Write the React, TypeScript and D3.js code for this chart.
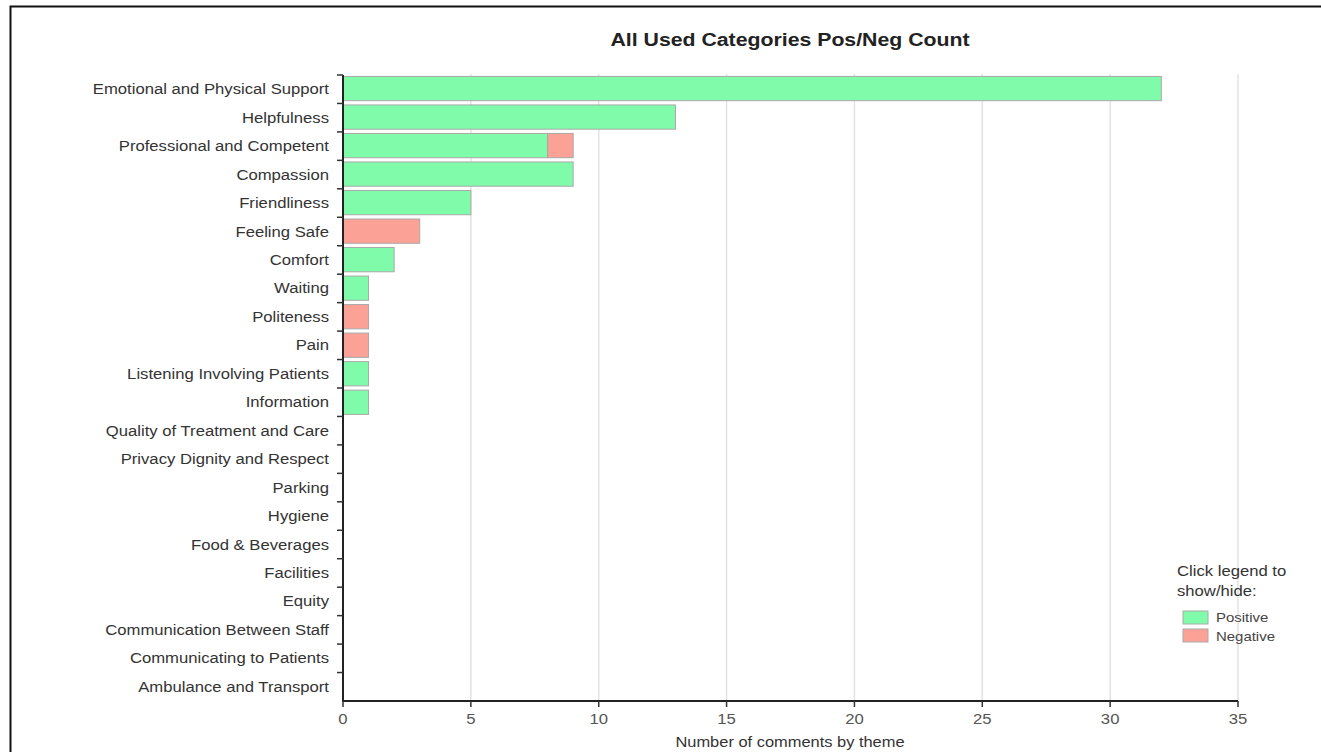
import React from "react";
import * as d3 from "d3";

const categories = [
  "Emotional and Physical Support",
  "Helpfulness",
  "Professional and Competent",
  "Compassion",
  "Friendliness",
  "Feeling Safe",
  "Comfort",
  "Waiting",
  "Politeness",
  "Pain",
  "Listening Involving Patients",
  "Information",
  "Quality of Treatment and Care",
  "Privacy Dignity and Respect",
  "Parking",
  "Hygiene",
  "Food & Beverages",
  "Facilities",
  "Equity",
  "Communication Between Staff",
  "Communicating to Patients",
  "Ambulance and Transport",
];
const positiveValues = [32, 13, 8, 9, 5, 0, 2, 1, 0, 0, 1, 1, 0, 0, 0, 0, 0, 0, 0, 0, 0, 0];
const negativeValues = [0, 0, 1, 0, 0, 3, 0, 0, 1, 1, 0, 0, 0, 0, 0, 0, 0, 0, 0, 0, 0, 0];
const xTicks = [0, 5, 10, 15, 20, 25, 30, 35];
const seriesNames = ["Positive", "Negative"];
const seriesColors = ["#80fbaa", "#fba196"];

const W = 1321;
const H = 752;
const m = { left: 343, right: 1238, top: 75, bottom: 701 };
const FONT = "'Liberation Sans', Arial, sans-serif";
const SX = 1.15;

function T(props: {
  x: number;
  y: number;
  size: number;
  anchor?: "start" | "middle" | "end";
  fill?: string;
  bold?: boolean;
  dy?: string;
  children: React.ReactNode;
}) {
  return (
    <text
      transform={`translate(${props.x},${props.y}) scale(${SX},1)`}
      textAnchor={props.anchor || "start"}
      fontSize={props.size}
      fontWeight={props.bold ? "bold" : "normal"}
      fill={props.fill || "#333"}
      dy={props.dy}
    >
      {props.children}
    </text>
  );
}

export default function App() {
  const x = d3.scaleLinear().domain([0, 35]).range([m.left, m.right]);
  const y = d3
    .scaleBand<string>()
    .domain(categories)
    .range([m.top, m.bottom])
    .paddingInner(0.15)
    .paddingOuter(0.05);
  const stacked = d3
    .stack<number>()
    .keys(["0", "1"])
    .value((i, k) => (k === "0" ? positiveValues[i] : negativeValues[i]))(categories.map((_, i) => i));
  const bandStep = (m.bottom - m.top) / categories.length;

  return (
    <div style={{ position: "fixed", left: 0, top: 0, width: W, height: H, background: "#fff" }}>
      <svg width={W} height={H} style={{ display: "block" }} fontFamily={FONT}>
        <rect x={10.5} y={6.5} width={1400} height={900} fill="#fff" stroke="#111" strokeWidth={2} />
        {/* grid */}
        {xTicks.slice(1).map((t) => (
          <line key={t} x1={x(t)} x2={x(t)} y1={m.top - 1} y2={m.bottom} stroke="#e2e2e2" strokeWidth={1.5} />
        ))}
        {/* bars */}
        {stacked.map((s, si) =>
          s.map((d, i) =>
            d[1] - d[0] > 0 ? (
              <rect
                key={si + "-" + i}
                x={x(d[0])}
                width={x(d[1]) - x(d[0])}
                y={y(categories[i])}
                height={y.bandwidth()}
                fill={seriesColors[si]}
                stroke="#a8a8a8"
                strokeWidth={1}
              />
            ) : null
          )
        )}
        {/* title */}
        <T x={790} y={46} size={18.5} anchor="middle" bold fill="#222">
          All Used Categories Pos/Neg Count
        </T>
        {/* y axis */}
        <line x1={m.left} x2={m.left} y1={m.top} y2={m.bottom} stroke="#222" strokeWidth={2} />
        {categories.map((c, i) => (
          <g key={c}>
            <line
              x1={m.left - 6}
              x2={m.left}
              y1={m.top + i * bandStep}
              y2={m.top + i * bandStep}
              stroke="#333"
              strokeWidth={1.5}
            />
            <T x={m.left - 14} y={m.top + i * bandStep + bandStep / 2} dy="0.35em" anchor="end" size={14.5} fill="#333">
              {c}
            </T>
          </g>
        ))}
        {/* x axis */}
        <line x1={m.left - 1} x2={m.right} y1={m.bottom} y2={m.bottom} stroke="#222" strokeWidth={2} />
        {xTicks.map((t) => (
          <g key={t}>
            <line x1={x(t)} x2={x(t)} y1={m.bottom} y2={m.bottom + 6} stroke="#333" strokeWidth={1.5} />
            <T x={x(t)} y={m.bottom + 23} anchor="middle" size={14.5} fill="#555">
              {t}
            </T>
          </g>
        ))}
        <T x={790} y={747} anchor="middle" size={14.3} fill="#333">
          Number of comments by theme
        </T>
        {/* legend */}
        <T x={1177} y={576} size={14.5} fill="#333">Click legend to</T>
        <T x={1177} y={596} size={14.5} fill="#333">show/hide:</T>
        {seriesNames.map((n, i) => (
          <g key={n}>
            <rect x={1183} y={611 + i * 18} width={25} height={13} fill={seriesColors[i]} stroke="#aaa" />
            <T x={1216} y={621.5 + i * 19} size={13} fill="#444">{n}</T>
          </g>
        ))}
      </svg>
    </div>
  );
}
